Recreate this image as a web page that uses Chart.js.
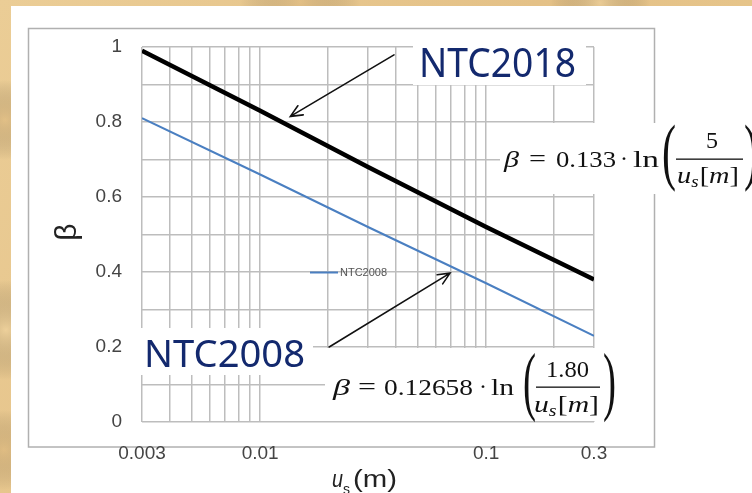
<!DOCTYPE html>
<html>
<head>
<meta charset="utf-8">
<script src="https://cdn.jsdelivr.net/npm/chart.js@4.4.1/dist/chart.umd.min.js"></script>
<style>
  html, body { margin: 0; padding: 0; background: #e7c68c; }
  #wrap { width: 752px; height: 493px; position: relative; }
  canvas { display: block; }
</style>
</head>
<body>
<div id="wrap"><canvas id="chart" width="752" height="493"></canvas></div>
<script>
// Seismic displacement u_s (m) and reduction coefficient beta
const displacement = [0.003, 0.01, 0.03, 0.1, 0.3];
const betaNTC2018 = [0.99, 0.83, 0.68, 0.52, 0.38];
const betaNTC2008 = [0.81, 0.66, 0.52, 0.37, 0.23];
const seriesNames = ['NTC2018', 'NTC2008'];

// Log grid positions and the ones carrying a label
const xGridValues = [0.003, 0.004, 0.005, 0.006, 0.007, 0.008, 0.009,
                     0.01, 0.02, 0.03, 0.04, 0.05, 0.06, 0.07, 0.08, 0.09,
                     0.1, 0.2, 0.3];
const xTickLabels = ['0.003', '0.01', '0.1', '0.3'];
const yTickLabels = ['0', '0.2', '0.4', '0.6', '0.8', '1'];

// Arrow anchors in data units (tail, tip)
const arrow2018 = { from: [0.0391, 0.979], to: [0.0136, 0.815] };
const arrow2008 = { from: [0.0202, 0.200], to: [0.0692, 0.397] };

const SANS = '"Liberation Sans", Arial, sans-serif';
const SERIF = '"Liberation Serif", "DejaVu Serif", serif';
const LABEL_SANS = '"Noto Sans", "Open Sans", sans-serif';
const NAVY = '#13296e';

function toPoints(xs, ys) { return xs.map((x, i) => ({ x: x, y: ys[i] })); }

function findLabel(list, v) {
  const hit = list.find(t => Math.abs(parseFloat(t) - v) <= 1e-6 * Math.max(1e-3, Math.abs(v)) || (parseFloat(t) === 0 && Math.abs(v) < 1e-9));
  return hit === undefined ? '' : hit;
}

// Draw text squeezed/stretched to an exact width
function stretchText(ctx, text, x, baseline, width, font, color) {
  ctx.save();
  ctx.font = font;
  ctx.fillStyle = color;
  ctx.textAlign = 'left';
  ctx.textBaseline = 'alphabetic';
  const w = ctx.measureText(text).width;
  ctx.translate(x, baseline);
  ctx.scale(width / w, 1);
  ctx.fillText(text, 0, 0);
  ctx.restore();
}

// Sequence of runs drawn as one group scaled to a width
function drawRuns(ctx, runs, x, baseline, width, color) {
  ctx.save();
  let total = 0;
  runs.forEach(r => { ctx.font = r.font; r.w = ctx.measureText(r.text).width; total += r.w + (r.gap || 0); });
  ctx.translate(x, baseline);
  ctx.scale(width / total, 1);
  ctx.fillStyle = color;
  ctx.textAlign = 'left';
  ctx.textBaseline = 'alphabetic';
  let cx = 0;
  runs.forEach(r => { ctx.font = r.font; ctx.fillText(r.text, cx, r.dy || 0); cx += r.w + (r.gap || 0); });
  ctx.restore();
}

function usM(size) {
  return [
    { text: 'u', font: 'italic ' + size + 'px ' + SERIF },
    { text: 's', font: 'italic ' + Math.round(size * 0.68) + 'px ' + SERIF, dy: 4, gap: 1 },
    { text: '[', font: size + 'px ' + SERIF },
    { text: 'm', font: 'italic ' + size + 'px ' + SERIF },
    { text: ']', font: size + 'px ' + SERIF }
  ];
}

function drawArrow(ctx, x1, y1, x2, y2) {
  const ang = Math.atan2(y2 - y1, x2 - x1);
  const head = 13, spread = 0.42;
  ctx.save();
  ctx.strokeStyle = '#111';
  ctx.lineWidth = 1.6;
  ctx.lineCap = 'round';
  ctx.beginPath();
  ctx.moveTo(x1, y1);
  ctx.lineTo(x2, y2);
  ctx.moveTo(x2 - head * Math.cos(ang - spread), y2 - head * Math.sin(ang - spread));
  ctx.lineTo(x2, y2);
  ctx.lineTo(x2 - head * Math.cos(ang + spread), y2 - head * Math.sin(ang + spread));
  ctx.stroke();
  ctx.restore();
}

function whiteBox(ctx, x, y, w, h) {
  ctx.fillStyle = '#ffffff';
  ctx.fillRect(x, y, w, h);
}

const decor = {
  id: 'decor',
  beforeDraw(chart) {
    const ctx = chart.ctx;
    ctx.save();
    // parchment backdrop
    const g = ctx.createLinearGradient(0, 0, 752, 493);
    g.addColorStop(0, '#ebcd96');
    g.addColorStop(0.5, '#e4c187');
    g.addColorStop(1, '#e9c98e');
    ctx.fillStyle = g;
    ctx.fillRect(0, 0, 752, 493);
    const spots = [[5, 120, 40, 'rgba(210,170,110,0.35)'], [6, 330, 50, 'rgba(245,220,170,0.4)'],
                   [300, 2, 60, 'rgba(215,175,115,0.3)'], [600, 3, 50, 'rgba(245,222,175,0.35)'],
                   [4, 450, 40, 'rgba(205,165,105,0.3)']];
    spots.forEach(s => {
      const r = ctx.createRadialGradient(s[0], s[1], 0, s[0], s[1], s[2]);
      r.addColorStop(0, s[3]);
      r.addColorStop(1, 'rgba(0,0,0,0)');
      ctx.fillStyle = r;
      ctx.fillRect(s[0] - s[2], s[1] - s[2], s[2] * 2, s[2] * 2);
    });
    // white sheet and chart frame
    ctx.fillStyle = '#ffffff';
    ctx.fillRect(11, 6, 741, 487);
    ctx.strokeStyle = '#b0b0b0';
    ctx.lineWidth = 1.5;
    ctx.strokeRect(28.5, 28.5, 626, 418.5);
    ctx.restore();
  },
  afterDraw(chart) {
    const ctx = chart.ctx;
    const xs = chart.scales.x, ys = chart.scales.y;
    const px = v => xs.getPixelForValue(v), py = v => ys.getPixelForValue(v);
    ctx.save();

    // in-plot legend entry for the blue series
    const ds = chart.data.datasets[1];
    const ly = py(0.4);
    ctx.strokeStyle = ds.borderColor;
    ctx.lineWidth = 2;
    ctx.beginPath();
    ctx.moveTo(310, ly + 0.5);
    ctx.lineTo(338, ly + 0.5);
    ctx.stroke();
    ctx.font = '11px ' + SANS;
    ctx.fillStyle = '#555';
    ctx.textBaseline = 'middle';
    ctx.textAlign = 'left';
    ctx.fillText(ds.label, 340, ly + 1);

    // arrows
    drawArrow(ctx, px(arrow2018.from[0]), py(arrow2018.from[1]), px(arrow2018.to[0]), py(arrow2018.to[1]));
    drawArrow(ctx, px(arrow2008.from[0]), py(arrow2008.from[1]), px(arrow2008.to[0]), py(arrow2008.to[1]));

    // series callouts
    whiteBox(ctx, 413, 37, 173, 48);
    stretchText(ctx, seriesNames[0], 419, 77, 157, '40px ' + LABEL_SANS, NAVY);
    whiteBox(ctx, 137, 328, 176, 47);
    stretchText(ctx, seriesNames[1], 144, 367, 161, '38px ' + LABEL_SANS, NAVY);

    const ink = '#111';
    // beta = 0.133 * ln(5 / u_s[m])
    whiteBox(ctx, 500, 123, 252, 71);
    stretchText(ctx, 'β', 504, 167, 15, 'italic 24px ' + SERIF, ink);
    stretchText(ctx, '=', 529, 166, 17, '24px ' + SERIF, ink);
    stretchText(ctx, '0.133', 556, 167, 60, '24px ' + SERIF, ink);
    stretchText(ctx, '·', 620, 166, 8, '24px ' + SERIF, ink);
    stretchText(ctx, 'ln', 633, 167, 26, '24px ' + SERIF, ink);
    stretchText(ctx, '(', 662, 176, 14, '74px ' + SERIF, ink);
    ctx.fillStyle = ink;
    ctx.fillRect(676, 158.5, 67, 1.3);
    stretchText(ctx, '5', 706, 148, 12, '24px ' + SERIF, ink);
    drawRuns(ctx, usM(24), 677, 183, 62, ink);
    stretchText(ctx, ')', 744, 176, 14, '74px ' + SERIF, ink);

    // beta = 0.12658 * ln(1.80 / u_s[m])
    whiteBox(ctx, 325, 348, 295, 73);
    stretchText(ctx, 'β', 333, 395, 17, 'italic 24px ' + SERIF, ink);
    stretchText(ctx, '=', 358, 394, 18, '24px ' + SERIF, ink);
    stretchText(ctx, '0.12658', 384, 395, 89, '24px ' + SERIF, ink);
    stretchText(ctx, '·', 479, 394, 8, '24px ' + SERIF, ink);
    stretchText(ctx, 'ln', 491, 395, 23, '24px ' + SERIF, ink);
    stretchText(ctx, '(', 523, 406, 13, '76px ' + SERIF, ink);
    ctx.fillStyle = ink;
    ctx.fillRect(536, 386.5, 64, 1.3);
    stretchText(ctx, '1.80', 546, 377, 43, '24px ' + SERIF, ink);
    drawRuns(ctx, usM(24), 534, 412, 65, ink);
    stretchText(ctx, ')', 603, 406, 13, '76px ' + SERIF, ink);

    // axis titles
    ctx.save();
    ctx.translate(68, 232);
    ctx.rotate(-Math.PI / 2);
    ctx.font = '30px ' + SANS;
    ctx.fillStyle = '#222';
    ctx.textAlign = 'center';
    ctx.textBaseline = 'middle';
    ctx.fillText('β', 0, 0);
    ctx.restore();

    stretchText(ctx, 'u', 332, 487, 11, 'italic 23px ' + SANS, '#222');
    stretchText(ctx, 's', 343, 494, 7, '15px ' + SANS, '#222');
    stretchText(ctx, '(m)', 353, 487, 44, '23px ' + SANS, '#222');

    ctx.restore();
  }
};

const gridStyle = { color: '#bdbdbd', lineWidth: 1.5, drawTicks: false };
const tickFont = { family: SANS, size: 19 };

new Chart(document.getElementById('chart'), {
  type: 'scatter',
  data: {
    datasets: [
      { label: seriesNames[0], data: toPoints(displacement, betaNTC2018), showLine: true,
        borderColor: '#000000', borderWidth: 4.5, pointRadius: 0, tension: 0 },
      { label: seriesNames[1], data: toPoints(displacement, betaNTC2008), showLine: true,
        borderColor: '#4a7fc1', borderWidth: 2, pointRadius: 0, tension: 0 }
    ]
  },
  options: {
    responsive: false,
    animation: false,
    devicePixelRatio: 1,
    layout: { padding: { left: 82, top: 47, right: 158, bottom: 21 } },
    plugins: { legend: { display: false }, tooltip: { enabled: false } },
    scales: {
      x: {
        type: 'logarithmic',
        min: 0.003, max: 0.3,
        afterBuildTicks: s => { s.ticks = xGridValues.map(v => ({ value: v })); },
        afterFit: s => { s.height = 50; },
        grid: gridStyle,
        border: { display: false },
        ticks: { autoSkip: false, maxRotation: 0, minRotation: 0, padding: 20, font: tickFont, color: '#444',
                 callback: v => findLabel(xTickLabels, v) }
      },
      y: {
        type: 'linear',
        min: 0, max: 1,
        afterFit: s => { s.width = 60; },
        grid: gridStyle,
        border: { display: false },
        ticks: { stepSize: 0.1, autoSkip: false, padding: 20, font: tickFont, color: '#444',
                 callback: v => findLabel(yTickLabels, v) }
      }
    }
  },
  plugins: [decor]
});
</script>
</body>
</html>
